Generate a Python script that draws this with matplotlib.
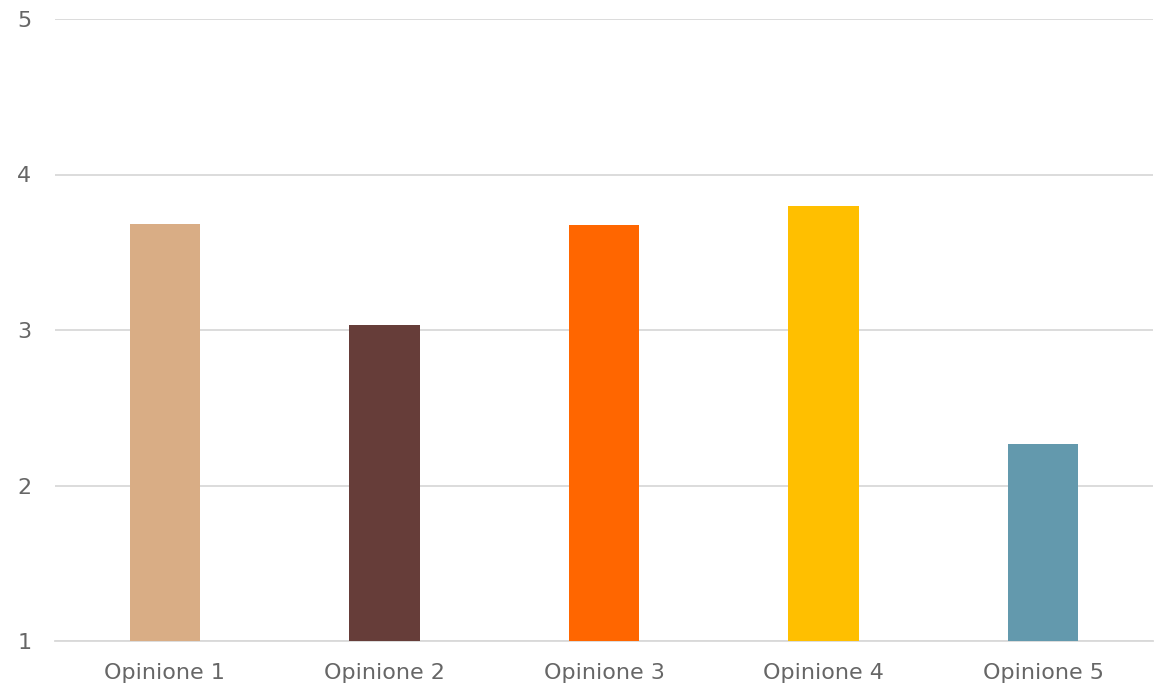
import matplotlib.pyplot as plt

categories = ["Opinione 1", "Opinione 2", "Opinione 3", "Opinione 4", "Opinione 5"]
values = [3.68, 3.03, 3.675, 3.80, 2.27]
colors = ["#D9AD85", "#663D39", "#FF6600", "#FFBF00", "#6399AD"]
yticks = [1, 2, 3, 4, 5]

plt.rcParams['font.family'] = ['DejaVu Sans']

fig = plt.figure(figsize=(11.56, 6.86), dpi=100)
ax = fig.add_axes([55 / 1156, 45 / 686, 1098 / 1156, 622 / 686])

x = range(len(categories))
ax.bar(x, [v - 1 for v in values], bottom=1, width=0.32, color=colors, zorder=3)

ax.set_xlim(-0.5, len(categories) - 0.5)
ax.set_ylim(1, 5)
ax.set_yticks(yticks)
ax.set_xticks(list(x))
ax.set_xticklabels(categories)
ax.yaxis.grid(True, color="#D9D9D9", linewidth=1.3, zorder=0)
for s in ["top", "right", "left"]:
    ax.spines[s].set_visible(False)
ax.spines["bottom"].set_color("#D9D9D9")
ax.spines["bottom"].set_linewidth(1.3)
ax.tick_params(axis="both", length=0, labelsize=16, labelcolor="#666666")
ax.tick_params(axis="y", pad=17)
ax.tick_params(axis="x", pad=16)

fig.savefig("out.png", dpi=100)
